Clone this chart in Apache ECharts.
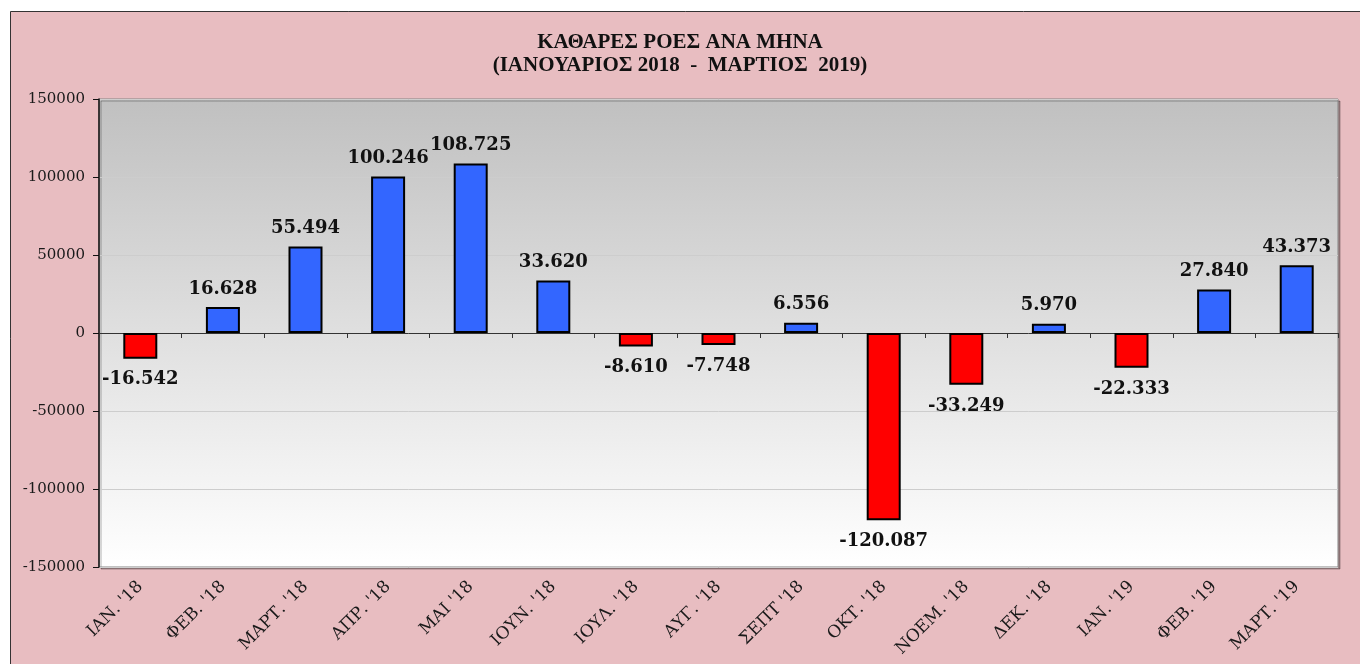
<!DOCTYPE html>
<html>
<head>
<meta charset="utf-8">
<script src="https://cdn.jsdelivr.net/npm/echarts@6/dist/echarts.min.js"></script>
<style>
    html, body {margin: 0; padding: 0; background: #fff;}
    #chart {width: 1360px; height: 664px;}
</style>
</head>
<body>
<div id="chart"></div>
<script>
const titleLines = ['ΚΑΘΑΡΕΣ ΡΟΕΣ ΑΝΑ ΜΗΝΑ', '(ΙΑΝΟΥΑΡΙΟΣ 2018  -  ΜΑΡΤΙΟΣ  2019)'];
const months = [
    "ΙΑΝ. '18", "ΦΕΒ. '18", "ΜΑΡΤ. '18", "ΑΠΡ. '18", "ΜΑΙ '18",
    "ΙΟΥΝ. '18", "ΙΟΥΛ. '18", "ΑΥΓ. '18", "ΣΕΠΤ '18", "ΟΚΤ. '18",
    "ΝΟΕΜ. '18", "ΔΕΚ. '18", "ΙΑΝ. '19", "ΦΕΒ. '19", "ΜΑΡΤ. '19",
];
const netFlows = [
    -16542, 16628, 55494, 100246, 108725,
    33620, -8610, -7748, 6556, -120087,
    -33249, 5970, -22333, 27840, 43373,
];
const yMin = -150000;
const yMax = 150000;
const yStep = 50000;

const serif = '"DejaVu Serif", serif';
const pink = '#e8bdc1';

// greek style: dot as thousands separator
const fmt = v => (v < 0 ? '-' : '') + Math.abs(v).toString().replace(/\B(?=(\d{3})+(?!\d))/g, '.');

const chart = echarts.init(document.getElementById('chart'), null, {renderer: 'canvas'});
chart.setOption({
    animation: false,
    backgroundColor: '#fff',
    graphic: [{
        type: 'rect',
        z: -10,
        shape: {x: 10.5, y: 11.5, width: 1400, height: 700},
        style: {fill: pink, stroke: '#333', lineWidth: 1},
    }].concat(titleLines.map((t, i) => ({
        type: 'text',
        left: 'center',
        top: 32 + i * 23,
        style: {
            text: t,
            font: 'bold 21px "Liberation Serif", serif',
            fill: '#111',
        },
    }))),
    grid: {
        left: 99, right: 22, top: 99, bottom: 97,
        show: true,
        borderColor: '#858585',
        borderWidth: 1,
        shadowColor: 'rgba(0,0,0,0.3)',
        shadowOffsetX: 2,
        shadowOffsetY: 2,
        shadowBlur: 0,
        backgroundColor: {
            type: 'linear', x: 0, y: 0, x2: 0, y2: 1,
            colorStops: [
                {offset: 0, color: '#c0c0c0'},
                {offset: 1, color: '#ffffff'},
            ],
        },
    },
    xAxis: [{
        type: 'category',
        data: months,
        position: 'bottom',
        axisLine: {show: false, onZero: false},
        axisTick: {show: false},
        axisLabel: {
            rotate: 45,
            margin: 17,
            interval: 0,
            color: '#1a1a1a',
            fontFamily: serif,
            fontSize: 17,
        },
    }, {
        // zero line with ticks between categories
        type: 'category',
        data: months,
        position: 'top',
        axisLine: {onZero: true, lineStyle: {color: '#333', width: 1}},
        axisTick: {show: true, inside: true, length: 5, lineStyle: {color: '#333'}},
        axisLabel: {show: false},
    }],
    yAxis: {
        type: 'value',
        min: yMin,
        max: yMax,
        interval: yStep,
        axisLine: {show: true, lineStyle: {color: '#111', width: 1.5}},
        axisTick: {show: true, length: 6, lineStyle: {color: '#111'}},
        axisLabel: {
            margin: 14,
            color: '#1a1a1a',
            fontFamily: serif,
            fontSize: 15,
            formatter: v => String(v),
        },
        splitLine: {lineStyle: {color: '#cdcdcd', width: 1}},
    },
    series: [{
        type: 'bar',
        xAxisIndex: 0,
        barWidth: 34,
        data: netFlows.map(v => ({
            value: v,
            itemStyle: {color: v < 0 ? '#ff0000' : '#3366ff'},
            label: {position: v < 0 ? 'bottom' : 'top', distance: v < 0 ? 12 : 9},
        })),
        itemStyle: {borderColor: '#000', borderWidth: 2},
        label: {
            show: true,
            formatter: p => fmt(p.value),
            color: '#111',
            fontFamily: serif,
            fontWeight: 'bold',
            fontSize: 18,
        },
    }],
});
</script>
</body>
</html>
